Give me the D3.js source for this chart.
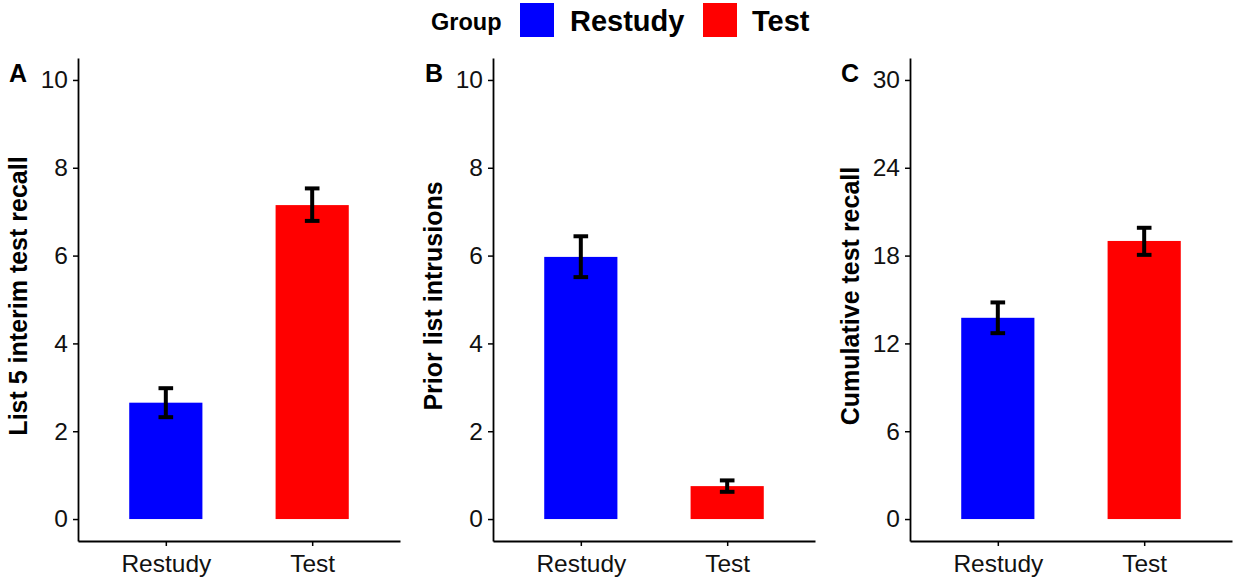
<!DOCTYPE html>
<html>
<head>
<meta charset="utf-8">
<script src="https://cdn.jsdelivr.net/npm/d3@7"></script>
<style>
  body { margin: 0; background: #fff; }
  text { font-family: "Liberation Sans", Arial, sans-serif; }
</style>
</head>
<body>
<div id="chart"></div>
<script>
const groups = ["Restudy", "Test"];
const groupColors = ["#0000ff", "#ff0000"];

// panel A: list 5 interim test recall
const recallMeans = [2.65, 7.15];
const recallErrLow = [2.32, 6.79];
const recallErrHigh = [2.98, 7.53];

// panel B: prior list intrusions
const intrusionMeans = [5.97, 0.75];
const intrusionErrLow = [5.51, 0.62];
const intrusionErrHigh = [6.44, 0.88];

// panel C: cumulative test recall
const cumulativeMeans = [13.75, 19.0];
const cumulativeErrLow = [12.7, 18.05];
const cumulativeErrHigh = [14.8, 19.9];

const panels = [
  {letter: "A", title: "List 5 interim test recall", means: recallMeans, lo: recallErrLow, hi: recallErrHigh,
   ticks: [0, 2, 4, 6, 8, 10], max: 10, left: 78, titleX: 27, letterX: 9},
  {letter: "B", title: "Prior list intrusions", means: intrusionMeans, lo: intrusionErrLow, hi: intrusionErrHigh,
   ticks: [0, 2, 4, 6, 8, 10], max: 10, left: 493, titleX: 442, letterX: 425},
  {letter: "C", title: "Cumulative test recall", means: cumulativeMeans, lo: cumulativeErrLow, hi: cumulativeErrHigh,
   ticks: [0, 6, 12, 18, 24, 30], max: 30, left: 910, titleX: 859, letterX: 841}
];

const W = 1233, H = 580;
const plotTop = 58, plotBottom = 541, panelW = 322;

const svg = d3.select("#chart").append("svg")
  .attr("width", W)
  .attr("height", H);

// legend
const legend = svg.append("g");
legend.append("text").attr("x", 431).attr("y", 30)
  .attr("font-size", 23.5).attr("font-weight", "bold").text("Group");
const legendPos = [{box: 520, text: 570}, {box: 703, text: 752}];
groups.forEach(function (g, i) {
  legend.append("rect")
    .attr("x", legendPos[i].box).attr("y", 3)
    .attr("width", 34).attr("height", 34)
    .attr("fill", groupColors[i]);
  legend.append("text")
    .attr("x", legendPos[i].text).attr("y", 31)
    .attr("font-size", 29).attr("font-weight", "bold")
    .text(g);
});

panels.forEach(function (p) {
  const pad = p.max * 0.05;
  const y = d3.scaleLinear().domain([-pad, p.max + pad]).range([plotBottom, plotTop]);
  // ggplot-like discrete axis: bars of width 0.5, expansion 0.6
  const x = d3.scaleLinear().domain([0.4, 2.6]).range([p.left, p.left + panelW]);

  const g = svg.append("g");

  // bars
  g.selectAll(".bar")
    .data(p.means)
    .enter()
    .append("rect")
    .attr("class", "bar")
    .attr("x", (d, i) => x(i + 1 - 0.25))
    .attr("width", x(1.25) - x(0.75))
    .attr("y", d => y(d))
    .attr("height", d => y(0) - y(d))
    .attr("fill", (d, i) => groupColors[i]);

  // error bars
  const eb = g.selectAll(".err")
    .data(p.means.map((d, i) => ({i: i, lo: p.lo[i], hi: p.hi[i]})))
    .enter()
    .append("g")
    .attr("class", "err")
    .attr("stroke", "black")
    .attr("stroke-width", 4);
  eb.append("line")
    .attr("x1", d => x(d.i + 1)).attr("x2", d => x(d.i + 1))
    .attr("y1", d => y(d.lo)).attr("y2", d => y(d.hi));
  eb.append("line")
    .attr("x1", d => x(d.i + 0.95)).attr("x2", d => x(d.i + 1.05))
    .attr("y1", d => y(d.lo)).attr("y2", d => y(d.lo));
  eb.append("line")
    .attr("x1", d => x(d.i + 0.95)).attr("x2", d => x(d.i + 1.05))
    .attr("y1", d => y(d.hi)).attr("y2", d => y(d.hi));

  // y axis
  const yAxis = g.append("g")
    .attr("transform", "translate(" + p.left + ",0)")
    .call(d3.axisLeft(y).tickValues(p.ticks).tickSize(5).tickPadding(5).tickSizeOuter(0));
  yAxis.select(".domain").attr("stroke-width", 1.8);
  yAxis.selectAll(".tick line").attr("stroke-width", 1.5);
  yAxis.selectAll(".tick text").attr("font-size", 24.5).attr("fill", "#111")
    .attr("font-family", "Liberation Sans, Arial, sans-serif");

  // x axis
  const xAxis = g.append("g")
    .attr("transform", "translate(0," + plotBottom + ")")
    .call(d3.axisBottom(x).tickValues([1, 2]).tickFormat((d, i) => groups[i])
      .tickSize(5).tickPadding(9).tickSizeOuter(0));
  xAxis.select(".domain").attr("stroke-width", 1.8);
  xAxis.selectAll(".tick line").attr("stroke-width", 1.5);
  xAxis.selectAll(".tick text").attr("font-size", 24.5).attr("fill", "#111")
    .attr("font-family", "Liberation Sans, Arial, sans-serif");

  // y title
  g.append("text")
    .attr("transform", "translate(" + p.titleX + ",296) rotate(-90)")
    .attr("text-anchor", "middle")
    .attr("font-size", 25).attr("font-weight", "bold")
    .text(p.title);

  // panel letter
  g.append("text")
    .attr("x", p.letterX).attr("y", 82)
    .attr("font-size", 25).attr("font-weight", "bold")
    .text(p.letter);
});
</script>
</body>
</html>
